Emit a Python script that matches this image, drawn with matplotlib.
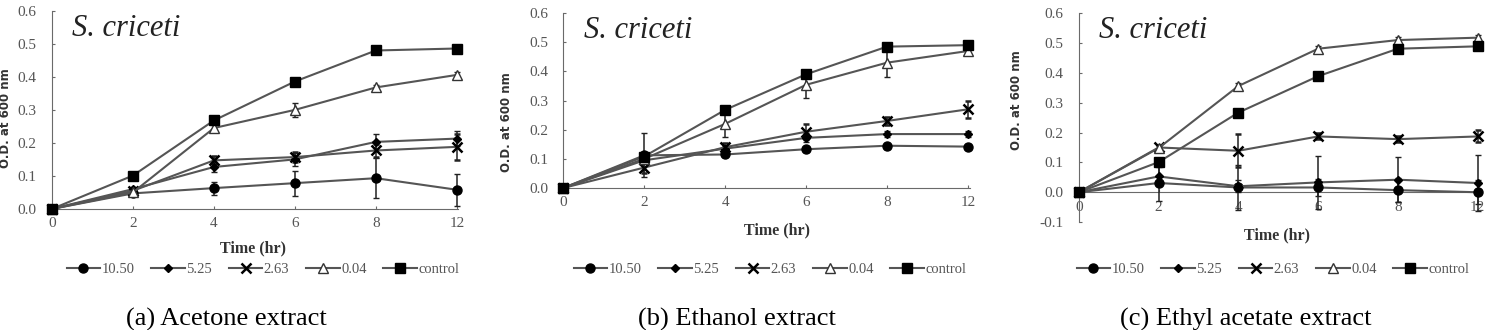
import matplotlib
matplotlib.use("Agg")
import matplotlib.pyplot as plt
import numpy as np

times = ["0", "2", "4", "6", "8", "12"]
series = ["10.50", "5.25", "2.63", "0.04", "control"]
captions = ["(a) Acetone extract", "(b) Ethanol extract", "(c) Ethyl acetate extract"]

# panel (a) acetone
a_vals = {
    "10.50":   [0.0, 0.047, 0.063, 0.078, 0.093, 0.058],
    "5.25":    [0.0, 0.060, 0.127, 0.150, 0.203, 0.213],
    "2.63":    [0.0, 0.055, 0.147, 0.157, 0.177, 0.188],
    "0.04":    [0.0, 0.050, 0.245, 0.300, 0.368, 0.406],
    "control": [0.0, 0.101, 0.268, 0.386, 0.480, 0.486],
}
a_err = {
    "10.50":   [0, 0.005, 0.02, 0.038, 0.06, 0.048],
    "5.25":    [0, 0.005, 0.015, 0.02, 0.025, 0.022],
    "2.63":    [0, 0.005, 0.012, 0.015, 0.02, 0.04],
    "0.04":    [0, 0.005, 0.01, 0.022, 0.008, 0.008],
    "control": [0, 0.004, 0.006, 0.005, 0.005, 0.005],
}

# panel (b) ethanol
b_vals = {
    "10.50":   [0.0, 0.112, 0.115, 0.133, 0.145, 0.142],
    "5.25":    [0.0, 0.095, 0.135, 0.172, 0.185, 0.185],
    "2.63":    [0.0, 0.070, 0.140, 0.193, 0.230, 0.270],
    "0.04":    [0.0, 0.100, 0.220, 0.354, 0.430, 0.470],
    "control": [0.0, 0.108, 0.268, 0.390, 0.485, 0.490],
}
b_err = {
    "10.50":   [0, 0.075, 0.008, 0.008, 0.01, 0.008],
    "5.25":    [0, 0.01, 0.01, 0.015, 0.01, 0.01],
    "2.63":    [0, 0.02, 0.015, 0.025, 0.015, 0.03],
    "0.04":    [0, 0.01, 0.045, 0.045, 0.05, 0.01],
    "control": [0, 0.005, 0.005, 0.005, 0.005, 0.005],
}

# panel (c) ethyl acetate
c_vals = {
    "10.50":   [0.0, 0.031, 0.016, 0.016, 0.007, 0.0],
    "5.25":    [0.0, 0.053, 0.020, 0.033, 0.042, 0.031],
    "2.63":    [0.0, 0.150, 0.139, 0.187, 0.178, 0.187],
    "0.04":    [0.0, 0.148, 0.356, 0.481, 0.510, 0.518],
    "control": [0.0, 0.101, 0.267, 0.389, 0.481, 0.489],
}
c_err = {
    "10.50":   [0, 0.06, 0.075, 0.03, 0.04, 0.04],
    "5.25":    [0, 0.03, 0.02, 0.09, 0.075, 0.095],
    "2.63":    [0, 0.01, 0.055, 0.01, 0.01, 0.02],
    "0.04":    [0, 0.01, 0.01, 0.01, 0.01, 0.01],
    "control": [0, 0.005, 0.005, 0.005, 0.005, 0.005],
}

styles = {
    "10.50":   dict(marker="o", ms=6.5, mfc="black", mec="black"),
    "5.25":    dict(marker="D", ms=4.5, mfc="black", mec="black"),
    "2.63":    dict(marker="x", ms=7, mew=1.8, mec="black"),
    "0.04":    dict(marker="^", ms=7.5, mfc="white", mec="#333333", mew=1.0),
    "control": dict(marker="s", ms=7.5, mfc="black", mec="black"),
}

serif = ["Liberation Serif", "DejaVu Serif"]
gray = "#6a6a6a"
W, H = 1486, 330

fig = plt.figure(figsize=(14.86, 3.30), dpi=100)

# rect, ylim, yticks, legend x, caption x, ylabel (x, y), xlabel (x, y)  -- pixels
panels = [
    (a_vals, a_err, [0.035, 0.367, 0.2735, 0.600], (0.0, 0.6),
     [0.0, 0.1, 0.2, 0.3, 0.4, 0.5, 0.6], 263, 226, (6, 118), (253, 248)),
    (b_vals, b_err, [0.379, 0.4303, 0.2735, 0.530], (0.0, 0.6),
     [0.0, 0.1, 0.2, 0.3, 0.4, 0.5, 0.6], 770, 737, (507, 122), (777, 230)),
    (c_vals, c_err, [0.726, 0.327, 0.2695, 0.633], (-0.1, 0.6),
     [-0.1, 0.0, 0.1, 0.2, 0.3, 0.4, 0.5, 0.6], 1273, 1246, (1017, 100), (1277, 235)),
]

x = np.arange(len(times))
for i, (vals, errs, rect, ylim, yticks, legx, capx, ylab, xlab) in enumerate(panels):
    ax = fig.add_axes(rect)
    handles = []
    for name in series:
        h = ax.errorbar(x, vals[name], yerr=errs[name], color="#555555", lw=1.5,
                        ecolor="#222222", elinewidth=1.1, capsize=2.5,
                        clip_on=False, zorder=3, **styles[name])
        handles.append(h[0])
    ax.set_xlim(0, 5.02)
    ax.set_ylim(*ylim)
    ax.set_xticks(x)
    ax.set_xticklabels(times)
    ax.set_yticks(yticks)
    ax.set_yticklabels(["%.1f" % t for t in yticks])
    for s in ["top", "right"]:
        ax.spines[s].set_visible(False)
    ax.spines["left"].set_color(gray)
    ax.spines["bottom"].set_color(gray)
    ax.spines["bottom"].set_position(("data", 0))
    ax.tick_params(direction="in", length=2.5, color=gray, labelcolor="#555555",
                   labelsize=11)
    ax.tick_params(axis="y", pad=11)
    ax.tick_params(axis="x", pad=6)
    for lab in ax.get_xticklabels() + ax.get_yticklabels():
        lab.set_family(serif)
    ax.set_xlabel("Time (hr)", family=serif, fontweight="bold", fontsize=11.5, color="#333333",
                  va="center")
    ax.xaxis.set_label_coords(xlab[0] / W, 1 - xlab[1] / H, transform=fig.transFigure)
    ax.set_ylabel("O.D. at 600 nm", fontsize=8.5, fontweight="bold", color="#333333",
                  va="center")
    ax.yaxis.set_label_coords(ylab[0] / W, 1 - ylab[1] / H, transform=fig.transFigure)
    ax.text(0.05, 0.985, "S. criceti", transform=ax.transAxes, family=serif, style="italic",
            fontsize=22, va="top", color="#222222")
    fig.legend(handles, series, loc="center", bbox_to_anchor=(legx / W, 1 - 269 / H),
               ncol=5, frameon=False, prop={"family": serif, "size": 10.5},
               handlelength=2.3, handletextpad=0.1, columnspacing=1.15, labelcolor="#555555")
    fig.text(capx / W, 1 - 319 / H, captions[i], family=serif,
             fontsize=19, ha="center", va="center")

fig.savefig("out.png", dpi=100)
